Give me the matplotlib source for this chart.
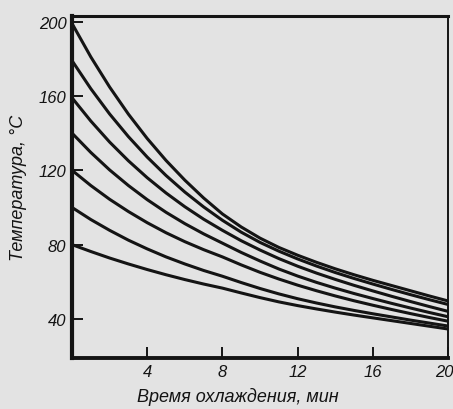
import numpy as np
import matplotlib
matplotlib.use("Agg")
import matplotlib.pyplot as plt
from matplotlib.transforms import ScaledTranslation

# time, min
t = list(range(0, 21))

# cooling curves, deg C (top to bottom)
c1 = [199, 181, 164.8, 150.2, 137.1, 125.3, 114.7, 105.1, 96.5, 89.5, 83.5,
      78.5, 74.3, 70.5, 67, 63.8, 60.8, 58, 55.2, 52.4, 49.7]
c2 = [179, 163.9, 150.3, 138.1, 127.1, 117.2, 108.3, 100.3, 93.1, 86.7, 81.2,
      76.5, 72.3, 68.5, 65, 61.8, 58.8, 55.9, 53.1, 50.4, 47.8]
c3 = [159, 146.5, 135.2, 125.1, 116, 107.8, 100.4, 93.7, 87.7, 82.1, 77.1,
      72.5, 68.4, 64.7, 61.3, 58.1, 55.1, 52.2, 49.4, 46.7, 44.1]
c4 = [140, 129.6, 120.2, 111.8, 104.2, 97.4, 91.3, 85.8, 80.8, 75.8, 71.2,
      66.9, 63.1, 59.7, 56.6, 53.7, 51, 48.4, 45.9, 43.5, 41.2]
c5 = [120, 111.8, 104.4, 97.8, 91.8, 86.4, 81.6, 77.3, 73.4, 69.1, 65.1,
      61.5, 58.2, 55.2, 52.4, 49.8, 47.4, 45.1, 42.9, 40.8, 38.8]
c6 = [100, 93.5, 87.7, 82.4, 77.7, 73.4, 69.6, 66.1, 63, 59.6, 56.4,
      53.5, 50.9, 48.6, 46.5, 44.6, 42.8, 41.1, 39.4, 37.8, 36.2]
c7 = [80, 76.3, 72.8, 69.6, 66.6, 63.8, 61.2, 58.8, 56.6, 54, 51.5,
      49.2, 47.2, 45.4, 43.7, 42.1, 40.6, 39.1, 37.6, 36.1, 34.6]

xticks = [4, 8, 12, 16, 20]
yticks = [40, 80, 120, 160, 200]

bg = "#e3e3e3"
ink = "#141414"

fig = plt.figure(figsize=(4.53, 4.10), dpi=100, facecolor=bg)
ax = fig.add_axes([0.159, 0.1244, 0.830, 0.834], facecolor=bg)

for c in [c1, c2, c3, c4, c5, c6, c7]:
    ax.plot(t, c, color=ink, lw=2.2, solid_joinstyle="round")

ax.set_xlim(0, 20)
ax.set_ylim(19, 203)
ax.set_xticks(xticks)
ax.set_yticks(yticks)

fnt = dict(family=["Liberation Sans", "DejaVu Sans"], style="italic", size=12)
lfnt = dict(family=["Liberation Sans", "DejaVu Sans"], style="italic", size=13)
ax.set_xticklabels([str(v) for v in xticks], **fnt)
ax.set_yticklabels([str(v) for v in yticks], **fnt)
ax.tick_params(direction="in", length=8, width=1.4, color=ink, labelcolor=ink, pad=4)

# last x label sits at the right edge, nudge it in a bit
last = ax.get_xticklabels()[-1]
last.set_transform(last.get_transform() + ScaledTranslation(-4 / 100, 0, fig.dpi_scale_trans))

for s, w in [("left", 3.0), ("bottom", 2.8), ("top", 2.2), ("right", 1.4)]:
    ax.spines[s].set_linewidth(w)
    ax.spines[s].set_color(ink)

ax.set_xlabel("Время охлаждения, мин", color=ink, **lfnt)
ax.set_ylabel("Температура, °С", color=ink, **lfnt)
ax.xaxis.set_label_coords(0.442, -0.085)
ax.yaxis.set_label_coords(-0.12, 0.5)

fig.savefig("out.png", dpi=100, facecolor=bg)
